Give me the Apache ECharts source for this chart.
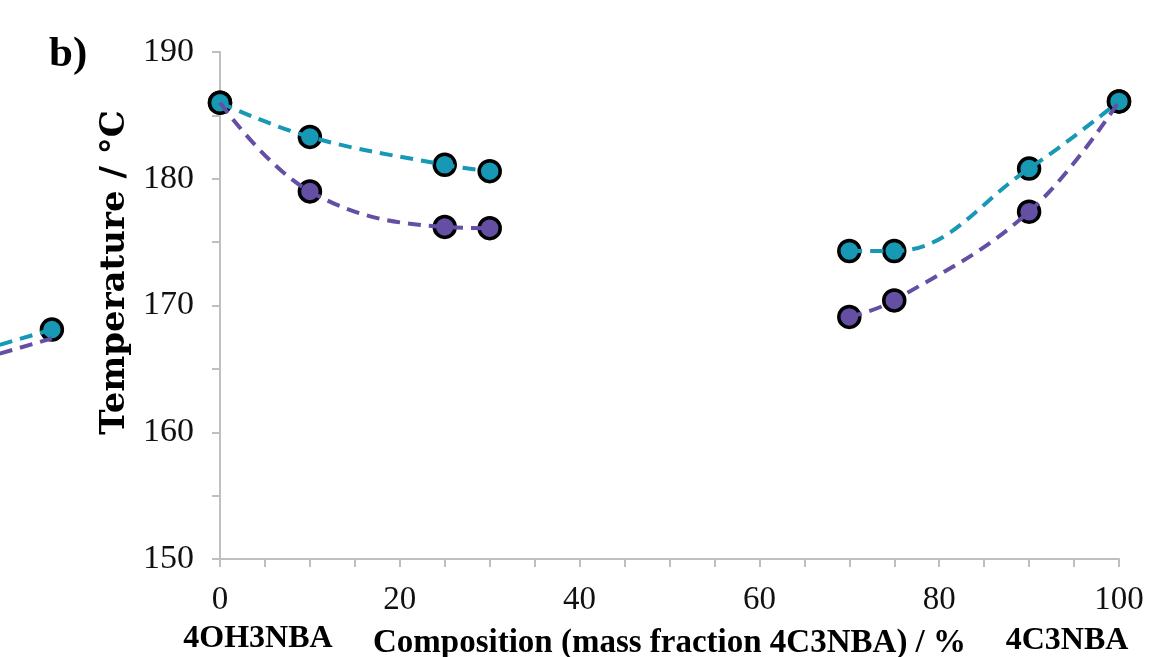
<!DOCTYPE html>
<html lang="en">
<head>
    <meta charset="utf-8">
    <title>phase diagram b</title>
    <script src="https://cdn.jsdelivr.net/npm/echarts@6/dist/echarts.min.js"></script>
    <style>
        html, body { margin: 0; padding: 0; background: #fff; }
        #chart { width: 1154px; height: 657px; }
    </style>
</head>
<body>
<div id="chart"></div>
<script>
    // composition (mass fraction 4C3NBA, %)
    var compLeft = [0, 10, 25, 30];
    var compRight = [70, 75, 90, 100];
    // upper (teal) and lower (purple) temperatures, °C
    var tealLeft = [186.0, 183.3, 181.1, 180.6];
    var tealRight = [174.3, 174.3, 180.8, 186.1];
    var purpleLeft = [186.0, 179.0, 176.2, 176.1];
    var purpleRight = [169.1, 170.4, 177.4, 186.1];
    // leftover bit of the neighbouring panel, sitting outside the axes
    var strayX = [-24.5, -18.7];
    var strayTeal = [166.9, 168.1];
    var strayPurple = [166.2, 167.4];

    var xTicks = [0, 20, 40, 60, 80, 100];
    var yTicks = [150, 160, 170, 180, 190];

    var teal = '#1798b4';
    var purple = '#654fa4';
    var axisGrey = '#bfbfbf';

    function pairs(xs, ys) {
        return xs.map(function (x, i) { return [x, ys[i]]; });
    }

    function markers(name, xs, ys, color, z) {
        return {
            name: name, type: 'scatter', data: pairs(xs, ys),
            symbol: 'circle', symbolSize: 21, clip: false, z: z,
            itemStyle: { color: color, borderColor: '#000', borderWidth: 3.5, opacity: 1 },
            emphasis: { disabled: true }
        };
    }

    function trend(xs, ys, color) {
        return {
            type: 'line', data: pairs(xs, ys), smooth: 0.4, showSymbol: false,
            clip: false, z: 5, silent: true,
            lineStyle: { color: color, width: 4, type: [13, 8] }
        };
    }

    // the cut-off dashed segments left of the y axis
    function strayTrend(xs, ys, color) {
        return {
            type: 'custom', clip: false, z: 5, silent: true,
            data: [[xs[0], ys[0], xs[1], ys[1]]],
            encode: { x: [0, 2], y: [1, 3] },
            renderItem: function (params, api) {
                var a = api.coord([api.value(0), api.value(1)]);
                var b = api.coord([api.value(2), api.value(3)]);
                return {
                    type: 'polyline',
                    shape: { points: [a, b] },
                    style: { stroke: color, lineWidth: 4, lineDash: [13, 8], fill: null }
                };
            }
        };
    }

    var chart = echarts.init(document.getElementById('chart'));
    chart.setOption({
        animation: false,
        grid: { left: 220, right: 35, top: 52, bottom: 98, outerBoundsMode: 'none' },
        xAxis: {
            type: 'value', min: xTicks[0], max: xTicks[xTicks.length - 1], interval: 20,
            name: 'Composition (mass fraction 4C3NBA) / %',
            nameLocation: 'middle', nameGap: 68,
            nameTextStyle: { fontFamily: 'Liberation Serif', fontWeight: 'bold', fontSize: 33, color: '#000' },
            axisLine: { lineStyle: { color: axisGrey, width: 2 } },
            axisTick: { length: 8, lineStyle: { color: axisGrey, width: 2 } },
            minorTick: { show: true, splitNumber: 4, length: 8, lineStyle: { color: axisGrey, width: 2 } },
            axisLabel: { fontFamily: 'Liberation Serif', fontSize: 33, color: '#111', margin: 25 },
            splitLine: { show: false }
        },
        yAxis: {
            type: 'value', min: yTicks[0], max: yTicks[yTicks.length - 1], interval: 10,
            name: 'Temperature / °C',
            nameLocation: 'middle', nameGap: 85,
            nameTextStyle: { fontFamily: 'DejaVu Serif', fontWeight: 'bold', fontSize: 34, color: '#000',
                padding: [0, 0, 0, 66] },
            axisLine: { show: true, lineStyle: { color: axisGrey, width: 2 } },
            axisTick: { show: true, length: 8, lineStyle: { color: axisGrey, width: 2 } },
            minorTick: { show: true, splitNumber: 2, length: 8, lineStyle: { color: axisGrey, width: 2 } },
            axisLabel: { fontFamily: 'Liberation Serif', fontSize: 34, color: '#111', margin: 26 },
            splitLine: { show: false }
        },
        graphic: [
            { type: 'text', left: 49, top: 33,
              style: { text: 'b)', fontFamily: 'Liberation Serif', fontWeight: 'bold', fontSize: 43, fill: '#000' } },
            { type: 'text', x: 258, y: 639,
              style: { text: '4OH3NBA', fontFamily: 'Liberation Serif', fontWeight: 'bold', fontSize: 32, fill: '#000',
                  align: 'center', verticalAlign: 'middle' } },
            { type: 'text', x: 1067, y: 641,
              style: { text: '4C3NBA', fontFamily: 'Liberation Serif', fontWeight: 'bold', fontSize: 32, fill: '#000',
                  align: 'center', verticalAlign: 'middle' } }
        ],
        series: [
            markers('purple left', compLeft, purpleLeft, purple, 2),
            markers('purple right', compRight, purpleRight, purple, 2),
            markers('teal left', compLeft, tealLeft, teal, 3),
            markers('teal right', compRight, tealRight, teal, 3),
            markers('teal stray', strayX.slice(1), strayTeal.slice(1), teal, 3),
            trend(compLeft, tealLeft, teal),
            trend(compRight, tealRight, teal),
            strayTrend(strayX, strayTeal, teal),
            trend(compLeft, purpleLeft, purple),
            trend(compRight, purpleRight, purple),
            strayTrend(strayX, strayPurple, purple)
        ]
    });
</script>
</body>
</html>
